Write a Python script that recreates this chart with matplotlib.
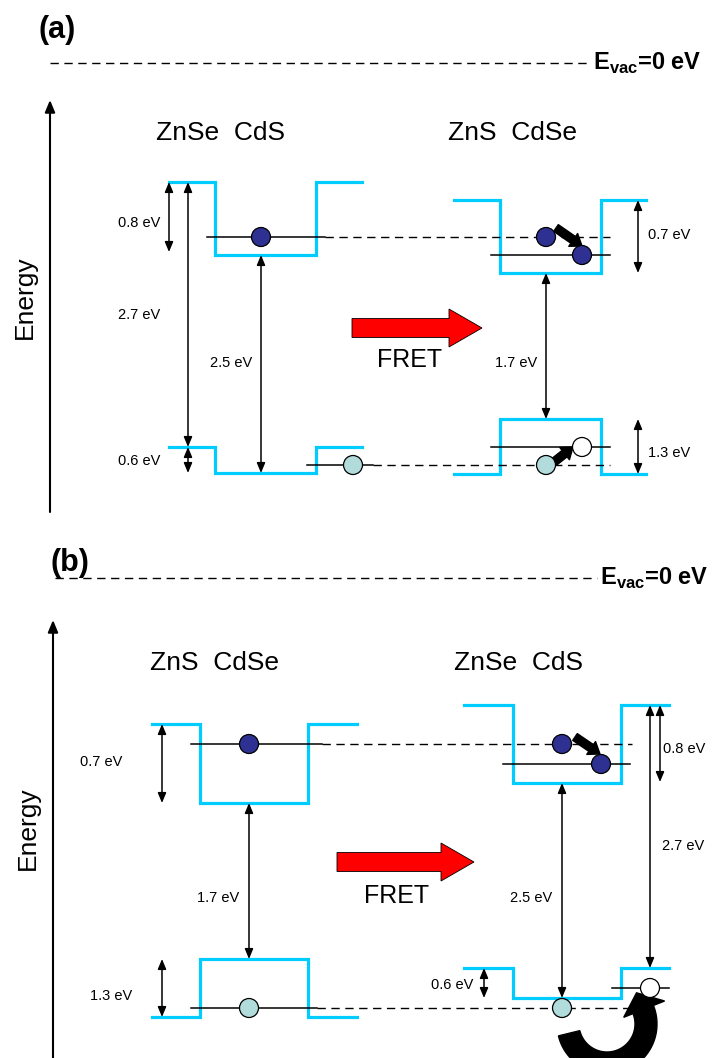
import numpy as np
import matplotlib.pyplot as plt
from matplotlib.patches import Circle, FancyArrow, FancyArrowPatch, Polygon

plt.rcParams['font.family'] = ['Liberation Sans', 'DejaVu Sans']
plt.rcParams['mathtext.fontset'] = 'custom'
plt.rcParams['mathtext.rm'] = 'Liberation Sans'
plt.rcParams['mathtext.bf'] = 'Liberation Sans:bold'

# --- values (pixel coordinates, y downwards)
panel_tags = ['(a)', '(b)']
panel_tag_xy = [(57, 30), (70, 563)]
vac_y = [63, 578]
vac_x = [(50, 590), (55, 597)]
axis_x = [50, 53]
axis_y = [(512, 100), (1058, 620)]
energy_label_xy = [(25, 297), (28, 828)]

# each well: name, x of outer-left, inner-left, inner-right, outer-right,
# CB shell, CB core, VB shell, VB core
well_names = ['ZnSe  CdS', 'ZnS  CdSe', 'ZnS  CdSe', 'ZnSe  CdS']
well_name_xy = [(220, 133), (513, 133), (214, 663), (518, 663)]
well_x = [(169, 215, 316, 362), (454, 500, 601, 646),
          (152, 200, 308, 357), (464, 513, 621, 669)]
cb_shell = [182, 200, 724, 705]
cb_core = [255, 273, 803, 783]
vb_shell = [447, 474, 1017, 968]
vb_core = [473, 419, 959, 998]

# gap arrows: x, y_top, y_bottom, label, label x, label y, alignment
gap_x = [169, 188, 188, 261, 546, 638, 638,
         162, 162, 249, 562, 484, 660, 650]
gap_top = [182, 182, 447, 255, 273, 200, 419,
           724, 959, 803, 783, 968, 705, 705]
gap_bot = [252, 447, 473, 473, 419, 273, 474,
           803, 1017, 959, 998, 998, 782, 968]
gap_labels = ['0.8 eV', '2.7 eV', '0.6 eV', '2.5 eV', '1.7 eV', '0.7 eV', '1.3 eV',
              '0.7 eV', '1.3 eV', '1.7 eV', '2.5 eV', '0.6 eV', '0.8 eV', '2.7 eV']
gap_label_x = [160, 160, 160, 252, 537, 648, 648,
               122, 132, 239, 552, 473, 663, 662]
gap_label_y = [223, 315, 461, 363, 363, 235, 453,
               762, 996, 898, 898, 985, 749, 846]
gap_label_ha = ['right'] * 5 + ['left'] * 2 + ['right'] * 5 + ['left'] * 2

# energy levels: y, x start, x end, style
level_y = [237, 237, 255, 465, 465, 447,
           744, 744, 764, 1008, 1008, 988]
level_x0 = [207, 325, 491, 307, 373, 491,
            191, 322, 503, 191, 317, 612]
level_x1 = [325, 610, 610, 373, 610, 610,
            322, 632, 630, 317, 633, 669]
level_ls = ['-', '--', '-', '-', '--', '-',
            '-', '--', '-', '-', '--', '-']

# carriers
electron_xy = [(261, 237), (546, 237), (582, 255), (249, 744), (562, 744), (601, 764)]
hole_xy = [(353, 465), (546, 465), (249, 1008), (562, 1008)]
empty_xy = [(582, 447), (650, 988)]

# relaxation arrows (tail, head)
hop_start = [(556, 228), (554, 462), (575, 737)]
hop_end = [(582, 246), (573, 447), (600, 754)]

# FRET arrows
fret_x = [(352, 482), (337, 474)]
fret_y = [328, 862]
fret_text_xy = [(410, 360), (397, 896)]

CYAN = '#00CCFF'
E_COL = '#2E3192'
H_COL = '#B2DCDC'

fig = plt.figure(figsize=(7.21, 10.58), dpi=100)
ax = fig.add_axes([0, 0, 1, 1])
ax.set_xlim(0, 721)
ax.set_ylim(1058, 0)
ax.axis('off')

# --- panel frame: tags, vacuum level, energy axis
for i in range(2):
    ax.text(*panel_tag_xy[i], panel_tags[i], fontsize=22, fontweight='bold',
            ha='center', va='center')
    ax.plot(vac_x[i], [vac_y[i]] * 2, color='k', lw=1, dashes=(6, 4))
    ax.text(vac_x[i][1] + 3, vac_y[i], r'$\mathbf{E}_{\mathbf{vac}}$=0 eV',
            fontsize=17, fontweight='bold', ha='left', va='center')
    ax.annotate('', xy=(axis_x[i], axis_y[i][1]), xytext=(axis_x[i], axis_y[i][0]),
                arrowprops=dict(arrowstyle='-|>,head_length=0.6,head_width=0.25',
                                lw=1.5, color='k', mutation_scale=12,
                                shrinkA=0, shrinkB=0))
    ax.text(*energy_label_xy[i], 'Energy', fontsize=19, rotation=90,
            ha='center', va='center')

# --- band edges
for i in range(4):
    x0, x1, x2, x3 = well_x[i]
    for shell, core in [(cb_shell[i], cb_core[i]), (vb_shell[i], vb_core[i])]:
        ax.plot([x0, x1, x1, x2, x2, x3], [shell, shell, core, core, shell, shell],
                color=CYAN, lw=2.3, solid_joinstyle='miter', zorder=2)
    ax.text(*well_name_xy[i], well_names[i], fontsize=19, ha='center', va='center')

# --- energy levels
for y, a, b, ls in zip(level_y, level_x0, level_x1, level_ls):
    if ls == '--':
        ax.plot([a, b], [y, y], color='k', lw=1, dashes=(6, 4), zorder=3)
    else:
        ax.plot([a, b], [y, y], color='k', lw=1.1, zorder=3)

# --- gap arrows and labels
for x, t, b, lab, lx, ly, ha in zip(gap_x, gap_top, gap_bot, gap_labels,
                                    gap_label_x, gap_label_y, gap_label_ha):
    ax.annotate('', xy=(x, t), xytext=(x, b),
                arrowprops=dict(arrowstyle='<|-|>,head_length=0.6,head_width=0.25',
                                lw=1.1, color='k', mutation_scale=10,
                                shrinkA=0, shrinkB=0), zorder=4)
    ax.text(lx, ly, lab, fontsize=10.5, ha=ha, va='center')

# --- relaxation arrows
for s, e in zip(hop_start, hop_end):
    ax.add_patch(FancyArrowPatch(s, e, arrowstyle='simple,head_length=0.55,head_width=0.8,tail_width=0.42',
                                 mutation_scale=14, color='k', shrinkA=0, shrinkB=0, zorder=5))

# --- curved hole-transfer arrow in (b)
cx, cy = 607, 1024
r_in, r_out = 28, 50
t = np.linspace(np.pi - 0.24, -0.38, 60)
outer = np.column_stack([cx + r_out * np.cos(t), cy + r_out * np.sin(t)])
inner = np.column_stack([cx + r_in * np.cos(t), cy + r_in * np.sin(t)])[::-1]
te = t[-1]
rad = np.array([np.cos(te), np.sin(te)])
tang = np.array([np.sin(te), -np.cos(te)])
mid = np.array([cx, cy]) + (r_in + r_out) / 2 * rad
head = [mid + 23 * rad, mid + 18 * tang, mid - 21 * rad]
pts = np.vstack([outer, head, inner])
ax.add_patch(Polygon(pts, closed=True, facecolor='k', edgecolor='k', zorder=4))

# --- carriers
for xy in electron_xy:
    ax.add_patch(Circle(xy, 9.5, facecolor=E_COL, edgecolor='k', lw=0.9, zorder=6))
for xy in hole_xy:
    ax.add_patch(Circle(xy, 9.5, facecolor=H_COL, edgecolor='k', lw=0.9, zorder=6))
for xy in empty_xy:
    ax.add_patch(Circle(xy, 9.5, facecolor='white', edgecolor='k', lw=0.9, zorder=6))

# --- FRET arrows
for (xa, xb), y, txy in zip(fret_x, fret_y, fret_text_xy):
    ax.add_patch(FancyArrow(xa, y, xb - xa, 0, width=19, head_width=38, head_length=33,
                            length_includes_head=True, facecolor='#FF0000',
                            edgecolor='k', lw=0.6, zorder=3))
    ax.text(*txy, 'FRET', fontsize=18, ha='center', va='center')

fig.savefig('out.png', dpi=100)
